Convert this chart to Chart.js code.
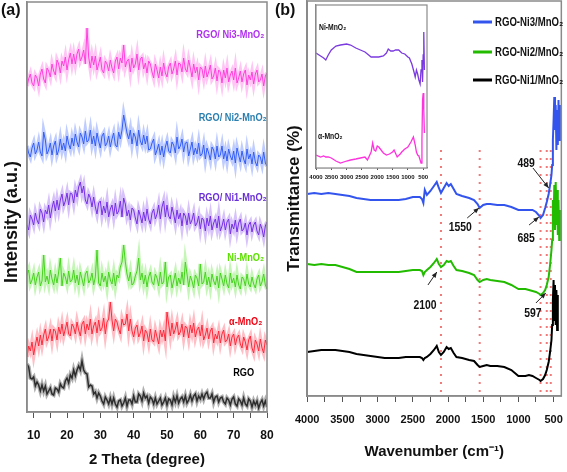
<!DOCTYPE html>
<html><head><meta charset="utf-8">
<script src="https://cdn.jsdelivr.net/npm/chart.js@4.4.0/dist/chart.umd.min.js"></script>
<style>
html,body{margin:0;padding:0;background:#fff;}
#wrap{position:relative;width:567px;height:472px;overflow:hidden;background:#fff;}
canvas{position:absolute;}
.lbl{position:absolute;font:bold 16px 'Liberation Sans',Arial,sans-serif;color:#111;}
</style></head><body>
<div id="wrap">
<canvas id="ca" style="left:0;top:0;width:290px;height:472px" width="290" height="472"></canvas>
<canvas id="cb" style="left:284px;top:0;width:290px;height:472px" width="290" height="472"></canvas>
<canvas id="cc" style="left:300px;top:0;width:140px;height:192px" width="140" height="192"></canvas>
<div class="lbl" style="left:1px;top:1px">(a)</div>
<div class="lbl" style="left:275px;top:1px">(b)</div>
</div>
<script>
// ---------- Panel (a): XRD (2θ, offset intensity) ----------
const thetaA = [8,8.5,9,9.5,10,10.5,11,11.5,12,12.5, 13,13.5,14,14.5,15,15.5,16,16.5,17,17.5, 18,18.5,19,19.5,20,20.5,21,21.5,22,22.5, 23,23.5,24,24.5,25,25.5,26,26.5,27,27.5, 28,28.5,29,29.5,30,30.5,31,31.5,32,32.5, 33,33.5,34,34.5,35,35.5,36,36.5,37,37.5, 38,38.5,39,39.5,40,40.5,41,41.5,42,42.5, 43,43.5,44,44.5,45,45.5,46,46.5,47,47.5, 48,48.5,49,49.5,50,50.5,51,51.5,52,52.5, 53,53.5,54,54.5,55,55.5,56,56.5,57,57.5, 58,58.5,59,59.5,60,60.5,61,61.5,62,62.5, 63,63.5,64,64.5,65,65.5,66,66.5,67,67.5, 68,68.5,69,69.5,70,70.5,71,71.5,72,72.5, 73,73.5,74,74.5,75,75.5,76,76.5,77,77.5, 78,78.5,79,79.5,80];
const xrdNi3 = [326,333,338,329,326,337,334,326,338,343, 333,329,344,341,335,348,341,337,352,348, 339,351,346,355,342,352,359,348,358,348, 358,363,351,355,362,348,384,355,344,356, 347,356,342,348,355,342,339,351,348,341, 352,344,339,351,355,343,354,349,367,345, 351,353,340,354,344,348,358,342,353,355, 343,349,339,351,348,340,334,348,342,334, 345,336,349,339,335,345,349,338,343,351, 337,349,348,340,354,343,340,352,344,335, 348,339,345,332,345,343,334,346,335,340, 347,333,336,344,331,342,340,329,342,334, 344,330,337,341,332,344,329,334,341,330, 338,342,327,337,332,340,328,338,342,330, 332,338,326,336,339];
const xrdNi2 = [266,259,255,264,269,258,262,270,260,256, 280,272,258,262,269,257,266,271,257,262, 273,262,269,261,276,268,263,274,266,278, 270,265,279,275,268,281,270,272,282,268, 276,266,279,271,264,276,279,266,269,276, 265,273,279,267,265,280,273,282,297,288, 279,273,282,268,279,275,266,282,271,267, 277,268,276,262,263,269,273,257,262,268, 257,266,255,265,271,261,259,270,267,259, 275,263,266,273,260,269,270,256,263,270, 257,264,258,269,256,258,267,253,264,259, 252,265,262,253,266,255,257,266,253,261, 251,263,256,252,261,249,264,257,250,261, 253,248,263,253,258,248,260,250,246,257, 255,248,260,249,246];
const xrdNi1 = [187,182,197,193,187,199,192,188,203,199, 190,202,198,207,194,204,211,201,212,202, 212,218,206,211,219,207,219,218,209,222, 215,225,230,219,226,212,208,218,214,205, 215,205,198,209,211,197,206,199,210,195, 203,207,196,209,198,201,211,195,214,208, 196,202,192,204,202,194,188,202,196,189, 200,191,203,193,188,199,203,193,198,207, 193,205,211,195,207,196,193,205,198,189, 202,193,199,186,199,196,187,199,188,192, 199,186,189,196,183,194,192,181,194,186, 196,182,189,193,184,196,181,186,193,182, 190,193,178,188,183,192,180,189,193,181, 183,189,177,187,190,180,187,190,181,177, 188,183,175,186,190];
const xrdNiMnO2 = [137,142,128,132,139,127,135,140,126,131, 157,130,136,128,142,133,127,138,129,140, 154,126,139,135,128,141,130,132,142,129, 137,127,140,133,126,138,141,129,132,139, 127,135,162,129,126,139,130,136,125,140, 132,128,139,126,137,134,145,150,167,150, 138,131,140,127,129,136,141,154,132,139, 128,137,125,135,140,130,127,138,134,126, 140,128,130,150,125,135,137,124,131,139, 126,134,128,140,127,150,138,125,136,131, 124,137,134,126,148,128,130,140,127,135, 125,138,131,127,136,124,139,133,126,137, 128,124,139,129,134,125,137,127,123,135, 133,126,138,128,125,135,128,124,133,137, 126,130,138,127,123];
const xrdAlpha = [55,66,61,70,57,67,75,66,77,67, 77,83,71,75,83,71,83,81,72,85, 78,88,76,83,90,78,76,88,85,78, 90,82,76,88,91,78,88,82,93,78, 86,90,79,92,81,84,94,78,90,93, 110,92,81,93,90,83,78,93,87,88, 98,81,93,81,75,84,87,75,79,86, 71,82,79,70,83,72,70,82,75,68, 82,75,82,71,100,88,76,89,78,83, 90,77,80,88,75,86,84,74,87,79, 89,75,82,85,76,87,72,77,84,73, 81,84,69,78,73,81,69,78,82,70, 72,78,66,75,78,67,74,77,68,64, 75,70,62,72,76,64,59,72,68,61, 73,64,59,72,67];
const xrdRGO = [48,45,34,33,35,26,30,27,21,27, 21,26,18,21,24,18,17,24,23,20, 28,25,24,31,34,29,37,34,42,36, 42,46,42,51,42,39,38,25,27,26, 18,20,14,19,16,11,8,15,12,8, 14,8,14,8,5,11,12,6,9,14, 6,12,12,8,16,10,10,18,16,11, 19,14,16,9,15,13,8,14,8,11, 14,7,10,14,7,13,12,7,15,10, 16,9,13,15,10,16,9,12,17,11, 16,18,11,16,13,18,13,18,20,14, 14,18,10,15,16,10,14,15,10,8, 14,12,7,13,15,8,6,13,11,7, 14,8,6,13,11,5,11,7,11,4, 9,12,6,11,5];
const namesA = ['RGO/ Ni3-MnO₂','RGO/ Ni2-MnO₂','RGO/ Ni1-MnO₂','Ni-MnO₂','α-MnO₂','RGO'];
const xTicksA = [10,20,30,40,50,60,70,80];

// ---------- Panel (b): FTIR ----------
const wnB = [4000,3900,3800,3700,3600,3500,3400,3300,3200,3100, 3000,2900,2800,2700,2600,2500,2400,2370,2350,2330, 2300,2250,2200,2160,2130,2100,2060,2020,1990,1960, 1920,1880,1800,1700,1630,1580,1550,1500,1450,1400, 1300,1200,1100,1000,900,850,800,750,700,685, 650,620,597,570,550,530,520,510,500,490, 480,470,460,450,440,430,420,410];
const ftNi3 = [202,203,202,203,202,201,200,198,197,196, 196,196,196,196,197,199,199,197,193,206, 201,205,210,214,208,203,208,213,210,212, 207,202,200,198,196,192,188,191,192,192, 191,191,189,186,186,186,186,184,180,178, 181,188,194,202,211,221,231,256,276,299, 266,291,246,286,251,296,256,291];
const ftNi2 = [132,131,132,131,131,129,127,124,124,124, 124,124,124,124,125,126,126,125,121,124, 126,129,133,137,132,129,131,135,134,135, 130,126,125,123,121,116,114,116,117,116, 115,114,111,107,107,106,105,104,102,101, 103,106,111,119,131,146,156,196,176,211, 166,214,171,206,161,196,156,186];
const ftNi1 = [44,45,46,46,46,45,44,42,41,40, 39,38,38,38,39,39,39,38,36,38, 39,42,46,50,44,41,44,49,47,48, 43,39,38,36,35,31,29,30,31,30, 30,29,26,20,20,21,20,18,16,15, 17,21,26,34,44,56,71,96,116,76, 111,71,106,66,101,null,null,null];
const namesB = ['RGO-Ni3/MnO₂','RGO-Ni2/MnO₂','RGO-Ni1/MnO₂'];
const peakLines = [2100,1550,685,597,540];
const peakTexts = ['1550','685','489','2100','597'];
const xTicksB = [4000,3500,3000,2500,2000,1500,1000,500];

// ---------- Inset ----------
const wnInNi = [4000,3850,3750,3680,3600,3500,3350,3200,3000,2870,2700,2550,2400,2320,2200,2100,1950,1800,1700,1640,1560,1480,1400,1300,1200,1100,1000,950,870,800,760,720,680,640,600,570,540,520,500,480,460];
const inNiMnO2 = [115,112,110,108,113,118,122,123,124,123, 120,118,116,114,111,111,111,112,115,119, 117,117,118,118,115,114,111,110,104,96, 91,98,94,88,84,98,108,86,113,136, 98];
const wnInAl = [4000,3850,3750,3680,3600,3500,3350,3200,3000,2870,2700,2550,2400,2320,2200,2150,2100,2050,2000,1950,1900,1800,1700,1600,1500,1450,1350,1250,1200,1100,1000,900,820,760,720,680,640,600,570,540,520,500,480,460];
const inAlpha = [13,11,12,11,11,10,7,5,7,8, 9,10,11,8,16,25,18,17,22,21, 19,15,13,14,16,18,11,14,16,19, 21,26,31,23,16,13,12,8,5,28, 68,75,58,35];
const namesIn = ['Ni-MnO₂','α-MnO₂'];
const xTicksIn = [4000,3500,3000,2500,2000,1500,1000,500];

// ---------- styles & helpers ----------
const SANS = "'Liberation Sans', Arial, sans-serif";
const pts = (xs, ys) => xs.map((x, i) => ({x: x, y: ys[i]}));
function narrowText(ctx, s, x, y, align, size, rot) {
  ctx.save();
  ctx.font = 'bold ' + size + 'px ' + SANS;
  ctx.translate(x, y);
  if (rot) ctx.rotate(rot);
  ctx.scale(0.8, 1);
  ctx.textAlign = align; ctx.textBaseline = 'middle';
  ctx.fillText(s, 0, 0);
  ctx.restore();
}

const colorsA = ['#ff33d8','#2a55f0','#6a1fe0','#3ccc14','#ff1a2a','#111111'];
const bandsA = ['rgba(255,90,225,0.35)','rgba(70,110,255,0.35)','rgba(140,80,240,0.35)','rgba(90,225,50,0.35)','rgba(255,70,90,0.35)','rgba(80,80,80,0.45)'];
const lineWA = [1, 1, 1, 1, 1, 1.5];
const textColA = ['#b030f0','#2a7fb0','#6a30d8','#5ce000','#f00010','#000000'];
const labelPosA = [[69,377],[69.7,294],[69.7,214],[73.6,154],[73.6,90],[73,39]];
const seriesA = [xrdNi3, xrdNi2, xrdNi1, xrdNiMnO2, xrdAlpha, xrdRGO];

const dsA = [];
seriesA.forEach((s, i) => {
  dsA.push({label: namesA[i] + ' band', data: pts(thetaA, s), borderColor: bandsA[i], borderWidth: 4, pointRadius: 0, tension: 0});
  dsA.push({label: namesA[i], data: pts(thetaA, s), borderColor: colorsA[i], borderWidth: lineWA[i], pointRadius: 0, tension: 0});
});

const panelAPlugin = {
  id: 'panelA',
  afterDatasetsDraw(chart) {
    const {ctx, chartArea: ca, scales: {x, y}} = chart;
    ctx.save();
    ctx.strokeStyle = '#8a8a8a'; ctx.lineWidth = 1.5;
    ctx.strokeRect(ca.left, ca.top, ca.right - ca.left, ca.bottom - ca.top);
    namesA.forEach((n, i) => {
      ctx.fillStyle = textColA[i];
      narrowText(ctx, n, x.getPixelForValue(labelPosA[i][0]), y.getPixelForValue(labelPosA[i][1]), 'center', 11.5);
    });
    ctx.restore();
  },
  afterDraw(chart) {
    const {ctx} = chart;
    ctx.save();
    ctx.fillStyle = '#111';
    ctx.font = 'bold 18px ' + SANS;
    ctx.translate(12, 222); ctx.rotate(-Math.PI / 2);
    ctx.textAlign = 'center'; ctx.textBaseline = 'middle';
    ctx.fillText('Intensity (a.u.)', 0, 0);
    ctx.restore();
  }
};

new Chart(document.getElementById('ca'), {
  type: 'line',
  data: {datasets: dsA},
  options: {
    responsive: false, animation: false, events: [],
    layout: {padding: {left: 0, right: 23, top: 2, bottom: 0}},
    plugins: {legend: {display: false}, tooltip: {enabled: false}},
    scales: {
      x: {type: 'linear', min: 8, max: 80,
        border: {display: true, color: '#8a8a8a', width: 1.5},
        grid: {drawOnChartArea: false, drawTicks: true, tickLength: 6, color: '#555'},
        ticks: {stepSize: 5, includeBounds: false, autoSkip: false, maxRotation: 0, padding: 10, color: '#111',
          font: {family: SANS, size: 12, weight: 'bold'},
          callback: v => xTicksA.includes(v) ? String(v) : ''},
        title: {display: true, text: '2 Theta (degree)', color: '#111', font: {family: SANS, size: 15, weight: 'bold'}, padding: {top: 0, bottom: 3}},
        afterFit: s => { s.height = 60; }
      },
      y: {type: 'linear', min: 0, max: 410,
        border: {display: true, color: '#8a8a8a', width: 1.5},
        grid: {display: false}, ticks: {display: false},
        title: {display: false, text: 'Intensity (a.u.)'},
        afterFit: s => { s.width = 27; }
      }
    }
  },
  plugins: [panelAPlugin]
});

// ---------- Chart (b) ----------
const colorsB = ['#3355ee','#22bb00','#000000'];
const seriesB = [ftNi3, ftNi2, ftNi1];
const dsB = seriesB.map((s, i) => ({label: namesB[i], data: pts(wnB, s), borderColor: colorsB[i], borderWidth: 2, pointRadius: 0, tension: 0, spanGaps: false}));

const peakTextPos = [[1825,169],[890,158],[890,233],[2327,91],[793,83]];
const arrowFrom = [[1727,178],[848,171],[793,228],[2285,111],[751,93]];
const arrowTo = [[1560,188],[709,179],[570,208],[2159,124],[611,103]];

function drawArrow(ctx, x1, y1, x2, y2) {
  ctx.beginPath(); ctx.moveTo(x1, y1); ctx.lineTo(x2, y2); ctx.stroke();
  const a = Math.atan2(y2 - y1, x2 - x1), h = 6;
  ctx.beginPath();
  ctx.moveTo(x2, y2);
  ctx.lineTo(x2 - h * Math.cos(a - 0.4), y2 - h * Math.sin(a - 0.4));
  ctx.lineTo(x2 - h * Math.cos(a + 0.4), y2 - h * Math.sin(a + 0.4));
  ctx.closePath(); ctx.fill();
}

const panelBPlugin = {
  id: 'panelB',
  beforeDatasetsDraw(chart) {
    const {ctx, scales: {x, y}} = chart;
    ctx.save();
    ctx.strokeStyle = '#f07a7a'; ctx.lineWidth = 2; ctx.setLineDash([2, 6]);
    peakLines.forEach(w => {
      const px = x.getPixelForValue(w);
      ctx.beginPath(); ctx.moveTo(px, y.getPixelForValue(246)); ctx.lineTo(px, y.getPixelForValue(2)); ctx.stroke();
    });
    ctx.restore();
  },
  afterDatasetsDraw(chart) {
    const {ctx, chartArea: ca, scales: {x, y}} = chart;
    ctx.save();
    ctx.strokeStyle = '#8a8a8a'; ctx.lineWidth = 1.5;
    ctx.strokeRect(ca.left, ca.top, ca.right - ca.left, ca.bottom - ca.top);
    ctx.strokeStyle = '#222'; ctx.fillStyle = '#222'; ctx.lineWidth = 1;
    arrowFrom.forEach((f, i) => {
      drawArrow(ctx, x.getPixelForValue(f[0]), y.getPixelForValue(f[1]), x.getPixelForValue(arrowTo[i][0]), y.getPixelForValue(arrowTo[i][1]));
    });
    ctx.fillStyle = '#111';
    peakTexts.forEach((t, i) => narrowText(ctx, t, x.getPixelForValue(peakTextPos[i][0]), y.getPixelForValue(peakTextPos[i][1]), 'center', 13));
    // legend
    const legY = [22, 52, 80];
    namesB.forEach((n, i) => {
      ctx.strokeStyle = colorsB[i]; ctx.lineWidth = 3;
      ctx.beginPath(); ctx.moveTo(189, legY[i]); ctx.lineTo(208, legY[i]); ctx.stroke();
      ctx.fillStyle = '#111';
      narrowText(ctx, n, 211, legY[i] + 1, 'left', 12);
    });
    ctx.restore();
  }
};

new Chart(document.getElementById('cb'), {
  type: 'line',
  data: {datasets: dsB},
  options: {
    responsive: false, animation: false, events: [],
    layout: {padding: {left: 0, right: 8, top: 1, bottom: 0}},
    plugins: {legend: {display: false}, tooltip: {enabled: false}},
    scales: {
      x: {type: 'linear', min: 390, max: 4000, reverse: true,
        border: {display: true, color: '#8a8a8a', width: 1.5},
        grid: {drawOnChartArea: false, drawTicks: true, tickLength: 6, color: '#555'},
        ticks: {stepSize: 250, includeBounds: false, autoSkip: false, maxRotation: 0, padding: 11, color: '#111',
          font: {family: SANS, size: 11, weight: 'bold'},
          callback: v => xTicksB.includes(v) ? String(v) : ''},
        title: {display: true, text: 'Wavenumber (cm⁻¹)', color: '#111', font: {family: SANS, size: 15, weight: 'bold'}, padding: {top: 0, bottom: 11}},
        afterFit: s => { s.height = 76; }
      },
      y: {type: 'linear', min: 0, max: 395,
        border: {display: true, color: '#8a8a8a', width: 1.5},
        grid: {display: false}, ticks: {display: false},
        title: {display: true, text: 'Transmittance (%)', color: '#111', font: {family: SANS, size: 17, weight: 'bold'}, padding: {top: 0, bottom: 0}},
        afterFit: s => { s.width = 23; }
      }
    }
  },
  plugins: [panelBPlugin]
});

// ---------- Inset ----------
const colorsIn = ['#7a3ae0','#ff33dd'];
const labelPosIn = [[3903,140],[3935,31]];
const insetPlugin = {
  id: 'inset',
  beforeDatasetsDraw(chart) {
    const {ctx, chartArea: ca} = chart;
    ctx.save(); ctx.fillStyle = '#fff';
    ctx.fillRect(ca.left, ca.top, ca.right - ca.left, ca.bottom - ca.top);
    ctx.restore();
  },
  afterDatasetsDraw(chart) {
    const {ctx, chartArea: ca, scales: {x, y}} = chart;
    ctx.save();
    ctx.strokeStyle = '#8a8a8a'; ctx.lineWidth = 1.2;
    ctx.strokeRect(ca.left, ca.top, ca.right - ca.left, ca.bottom - ca.top);
    ctx.fillStyle = '#111';
    namesIn.forEach((n, i) => narrowText(ctx, n, x.getPixelForValue(labelPosIn[i][0]), y.getPixelForValue(labelPosIn[i][1]), 'left', 8.5));
    ctx.restore();
  }
};

new Chart(document.getElementById('cc'), {
  type: 'line',
  data: {datasets: [
    {label: namesIn[0], data: pts(wnInNi, inNiMnO2), borderColor: colorsIn[0], borderWidth: 1.3, pointRadius: 0, tension: 0},
    {label: namesIn[1], data: pts(wnInAl, inAlpha), borderColor: colorsIn[1], borderWidth: 1.3, pointRadius: 0, tension: 0}
  ]},
  options: {
    responsive: false, animation: false, events: [],
    layout: {padding: {left: 0, right: 13, top: 5, bottom: 0}},
    plugins: {legend: {display: false}, tooltip: {enabled: false}},
    scales: {
      x: {type: 'linear', min: 375, max: 4000, reverse: true,
        border: {display: true, color: '#8a8a8a', width: 1.2},
        grid: {drawOnChartArea: false, drawTicks: true, tickLength: 2, color: '#555'},
        afterBuildTicks: s => { s.ticks = xTicksIn.map(v => ({value: v})); },
        ticks: {autoSkip: false, maxRotation: 0, padding: 4, color: '#111',
          font: {family: SANS, size: 6, weight: 'bold'},
          callback: v => String(v)},
        afterFit: s => { s.height = 24; }
      },
      y: {type: 'linear', min: 0, max: 163,
        border: {display: true, color: '#8a8a8a', width: 1.2},
        grid: {display: false}, ticks: {display: false},
        afterFit: s => { s.width = 16; }
      }
    }
  },
  plugins: [insetPlugin]
});
</script>
</body></html>
